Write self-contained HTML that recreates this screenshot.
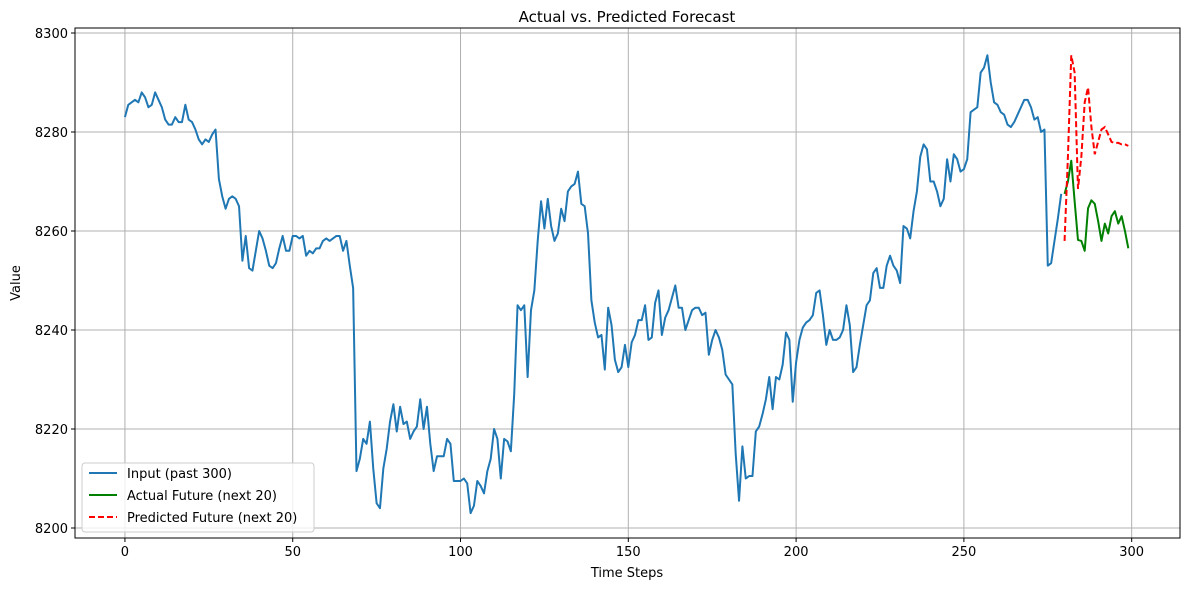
<!DOCTYPE html>
<html><head><meta charset="utf-8"><style>
body{margin:0;background:#fff;font-family:"Liberation Sans","DejaVu Sans",sans-serif;}
svg text{font-family:"DejaVu Sans","Liberation Sans",sans-serif;}
</style></head><body>
<svg id="chart" width="1189" height="590" xmlns="http://www.w3.org/2000/svg">
<rect width="1189" height="590" fill="#fff"/>
<g id="grid"></g>
<g id="series"></g>
<rect x="75" y="28" width="1105" height="510" fill="none" stroke="#000" stroke-width="1"/>
<g id="axes"></g>
<text x="627" y="22" font-size="15" text-anchor="middle">Actual vs. Predicted Forecast</text>
<text x="627" y="577" font-size="13" text-anchor="middle">Time Steps</text>
<text x="20" y="283" font-size="13" text-anchor="middle" transform="rotate(-90 20 283)">Value</text>
<g>
<rect x="82" y="463" width="232" height="69" rx="3" fill="#fff" fill-opacity="0.8" stroke="#ccc"/>
<line x1="89" y1="473" x2="117" y2="473" stroke="#1f77b4" stroke-width="2"/>
<text x="127" y="478" font-size="13">Input (past 300)</text>
<line x1="89" y1="495" x2="117" y2="495" stroke="green" stroke-width="2"/>
<text x="127" y="500" font-size="13">Actual Future (next 20)</text>
<line x1="89" y1="517" x2="117" y2="517" stroke="red" stroke-width="2" stroke-dasharray="6,3"/>
<text x="127" y="522" font-size="13">Predicted Future (next 20)</text>
</g>
</svg>
<script>
const inputValues=[8283,8285.5,8286,8286.5,8286,8288,8287,8285,8285.5,8288,8286.5,8285,8282.5,8281.5,8281.5,8283,8282,8282,8285.5,8282.5,8282,8280.5,8278.5,8277.5,8278.5,8278,8279.5,8280.5,8270.5,8267,8264.5,8266.5,8267,8266.5,8265,8254,8259,8252.5,8252,8256,8260,8258.5,8256,8253,8252.5,8253.5,8256.5,8259,8256,8256,8259,8259,8258.5,8259,8255,8256,8255.5,8256.5,8256.5,8258,8258.5,8258,8258.5,8259,8259,8256,8258,8253,8248.5,8211.5,8214,8218,8217,8221.5,8212,8205,8204,8212,8216,8221.5,8225,8219.5,8224.5,8221,8221.5,8218,8219.5,8220.5,8226,8220,8224.5,8217,8211.5,8214.5,8214.5,8214.5,8218,8217,8209.5,8209.5,8209.5,8210,8209,8203,8204.5,8209.5,8208.5,8207,8211.5,8214,8220,8218,8210,8218,8217.5,8215.5,8227,8245,8244,8245,8230.5,8244,8248,8258,8266,8260.5,8266.5,8261,8258,8259.5,8264.5,8262,8268,8269,8269.5,8272,8265.5,8265,8259.5,8246,8241.5,8238.5,8239,8232,8244.5,8241,8234,8231.5,8232.5,8237,8232.5,8237.5,8239,8242,8242,8245,8238,8238.5,8245.5,8248,8239,8242.5,8244,8246.5,8249,8244.5,8244.5,8240,8242,8244,8244.5,8244.5,8243,8243.5,8235,8238,8240,8238.5,8236,8231,8230,8229,8215,8205.5,8216.5,8210,8210.5,8210.5,8219.5,8220.5,8223,8226,8230.5,8224,8230.5,8230,8233,8239.5,8238,8225.5,8233.5,8238,8240.5,8241.5,8242,8243,8247.5,8248,8243,8237,8240,8238,8238,8238.5,8240,8245,8241,8231.5,8232.5,8237,8241,8245,8246,8251.5,8252.5,8248.5,8248.5,8253,8255,8253,8252,8249.5,8261,8260.5,8258.5,8264,8268,8275,8277.5,8276.5,8270,8270,8268,8265,8266.5,8274.5,8270,8275.5,8274.5,8272,8272.5,8274.5,8284,8284.5,8285,8292,8293,8295.5,8290,8286,8285.5,8284,8283.5,8281.5,8281,8282,8283.5,8285,8286.5,8286.5,8285,8282.5,8283,8280,8280.5,8253,8253.5,8258,8262.5,8267.5];
const futureStart=280;
const actualValues=[8267.5,8270,8274.2,8266,8258.2,8258,8256,8264.6,8266.2,8265.5,8262,8258,8261.5,8259.5,8263,8264,8261.5,8263,8260,8256.5];
const predictedValues=[8258,8275,8295.5,8292,8268.5,8275,8286,8289,8281,8275.5,8278,8280.5,8281,8279.5,8278,8277.8,8277.8,8277.5,8277.5,8277.2];
const xTicks=[0,50,100,150,200,250,300];
const yTicks=[8200,8220,8240,8260,8280,8300];

const L=75,R=1180,T=28,B=538;
const xMin=-14.88,xMax=314.4,yMin=8197.98,yMax=8301.01;
const X=v=>L+(v-xMin)/(xMax-xMin)*(R-L);
const Y=v=>B-(v-yMin)/(yMax-yMin)*(B-T);
const NS="http://www.w3.org/2000/svg";
const grid=document.getElementById('grid'),axes=document.getElementById('axes'),ser=document.getElementById('series');
function mk(tag,attrs,parent){const e=document.createElementNS(NS,tag);for(const k in attrs)e.setAttribute(k,attrs[k]);parent.appendChild(e);return e;}
xTicks.forEach(t=>{
  const g=mk('line',{x1:X(t),x2:X(t),y1:T,y2:B,stroke:'#b0b0b0','stroke-width':1},grid);
  
  
  mk('line',{x1:X(t),x2:X(t),y1:B,y2:B+4,stroke:'#000'},axes);
  const tx=mk('text',{x:X(t),y:B+18,'font-size':13,'text-anchor':'middle'},axes);
  tx.textContent=t;
  
  
});
yTicks.forEach(t=>{
  const g=mk('line',{x1:L,x2:R,y1:Y(t),y2:Y(t),stroke:'#b0b0b0','stroke-width':1},grid);
  
  
  mk('line',{x1:L-4,x2:L,y1:Y(t),y2:Y(t),stroke:'#000'},axes);
  const tx=mk('text',{x:L-7,y:Y(t)+5,'font-size':13,'text-anchor':'end'},axes);
  tx.textContent=t;
  
  
});
function pts(vals,start){return vals.map((v,i)=>X(start+i).toFixed(2)+','+Y(v).toFixed(2)).join(' ');}
const p1=mk('polyline',{points:pts(inputValues,0),fill:'none',stroke:'#1f77b4','stroke-width':2,'stroke-linejoin':'round'},ser);


const p2=mk('polyline',{points:pts(actualValues,futureStart),fill:'none',stroke:'green','stroke-width':2,'stroke-linejoin':'round'},ser);


const p3=mk('polyline',{points:pts(predictedValues,futureStart),fill:'none',stroke:'red','stroke-width':2,'stroke-dasharray':'6,3'},ser);


</script>
</body></html>
